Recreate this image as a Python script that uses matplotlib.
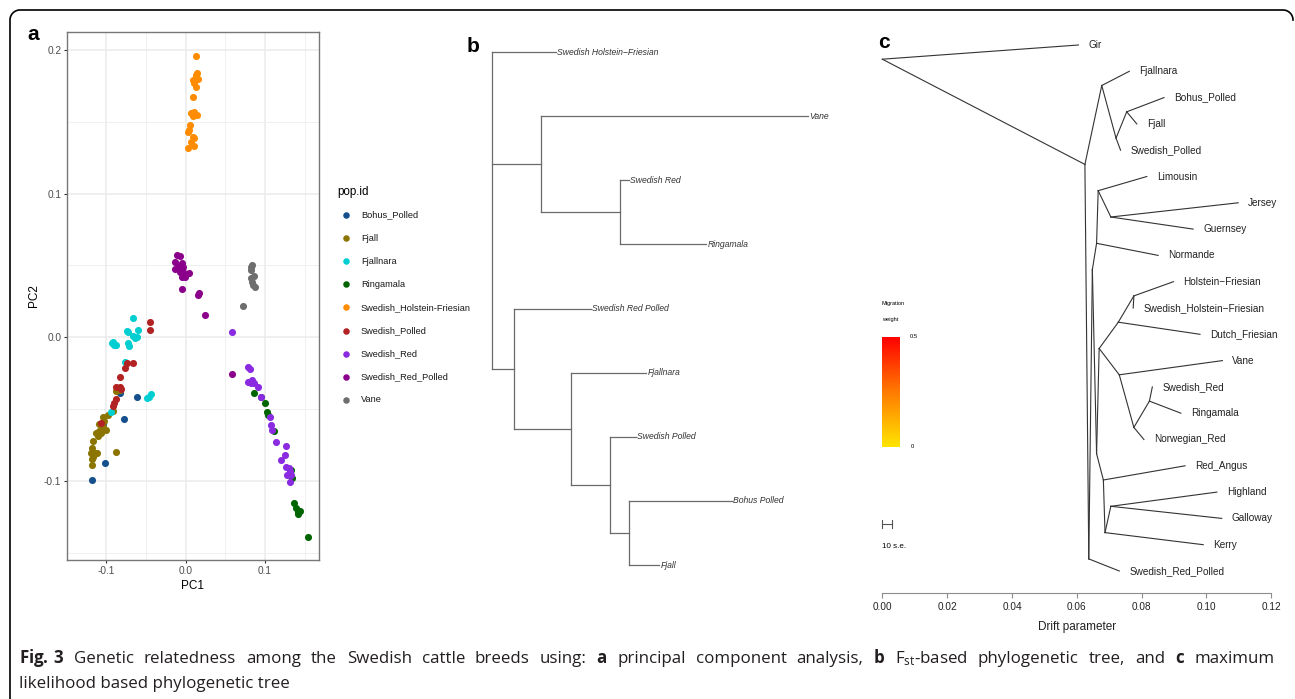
import numpy as np
import matplotlib.pyplot as plt
from matplotlib.colors import LinearSegmentedColormap
from matplotlib.patches import Rectangle

plt.rcParams['font.family'] = ['Liberation Sans', 'DejaVu Sans']
plt.rcParams['mathtext.fontset'] = 'custom'
plt.rcParams['mathtext.rm'] = 'Open Sans'
plt.rcParams['mathtext.bf'] = 'Open Sans:bold'
plt.rcParams['mathtext.it'] = 'Open Sans:italic'

W, H = 1295, 699

# ---------------- panel a : PCA scores ----------------
pops = ['Bohus_Polled', 'Fjall', 'Fjallnara', 'Ringamala', 'Swedish_Holstein-Friesian',
        'Swedish_Polled', 'Swedish_Red', 'Swedish_Red_Polled', 'Vane']
pop_colors = ['#15508C', '#8B7500', '#00CED1', '#006400', '#FF8C00',
              '#B22222', '#8A2BE2', '#8B008B', '#6E6E6E']

bohus_pc1 = [-0.0823, -0.0613, -0.0783, -0.102, -0.1179, -0.1045]
bohus_pc2 = [-0.0385, -0.0413, -0.0569, -0.0877, -0.0993, -0.0600]

fjall_pc1 = [-0.0882, -0.0823, -0.0922, -0.0981, -0.1048, -0.1032, -0.1087, -0.104, -0.1008,
             -0.1099, -0.1127, -0.1111, -0.1071, -0.1167, -0.1179, -0.1159, -0.119, -0.1119,
             -0.1167, -0.1179, -0.1179, -0.0874]
fjall_pc2 = [-0.0371, -0.0367, -0.0511, -0.0541, -0.0552, -0.058, -0.0603, -0.0622, -0.0645,
             -0.065, -0.0664, -0.0687, -0.0668, -0.0719, -0.0773, -0.0803, -0.0807, -0.0807,
             -0.0831, -0.0849, -0.0889, -0.0796]

fjallnara_pc1 = [-0.0664, -0.0744, -0.0724, -0.0664, -0.0613, -0.0597, -0.0636, -0.0922, -0.0902,
                 -0.0874, -0.093, -0.0732, -0.0716, -0.0764, -0.0942, -0.0439, -0.0467, -0.0487]
fjallnara_pc2 = [0.0132, 0.0046, 0.0035, 0.0009, 0.0, 0.0051, -0.0005, -0.003, -0.0054,
                 -0.0054, -0.004, -0.004, -0.0059, -0.017, -0.0518, -0.0395, -0.0418, -0.0425]

ringamala_pc1 = [0.0866, 0.0945, 0.0996, 0.1024, 0.1036, 0.1115, 0.1324, 0.134, 0.1364,
                 0.1392, 0.1412, 0.1443, 0.142, 0.1538]
ringamala_pc2 = [-0.039, -0.0413, -0.0455, -0.0518, -0.054, -0.065, -0.0923, -0.0981, -0.1151,
                 -0.119, -0.1213, -0.1206, -0.1228, -0.1392]

shf_pc1 = [0.0126, 0.0146, 0.0126, 0.0087, 0.0153, 0.0107, 0.0126, 0.0087, 0.0107, 0.0067,
           0.0138, 0.0087, 0.006, 0.0047, 0.0028, 0.0087, 0.0107, 0.010, 0.0028, 0.0067]
shf_pc2 = [0.196, 0.184, 0.1825, 0.179, 0.180, 0.1767, 0.174, 0.167, 0.157, 0.156,
           0.1547, 0.154, 0.1477, 0.1443, 0.143, 0.1396, 0.1385, 0.1333, 0.1315, 0.136]

spolled_pc1 = [-0.0455, -0.0455, -0.0664, -0.0744, -0.0771, -0.0823, -0.0874, -0.0834, -0.081,
               -0.0874, -0.0902, -0.0922, -0.1072]
spolled_pc2 = [0.0104, 0.0051, -0.0177, -0.0177, -0.0216, -0.0278, -0.0348, -0.0348, -0.0362,
               -0.0431, -0.0455, -0.0478, -0.0594]

sred_pc1 = [0.0589, 0.0787, 0.0807, 0.0779, 0.0838, 0.0826, 0.0866, 0.0917, 0.0945, 0.1063,
            0.1075, 0.1087, 0.1135, 0.1261, 0.1253, 0.1206, 0.1261, 0.1313, 0.1273, 0.1324,
            0.1313, 0.130]
sred_pc2 = [0.0035, -0.0204, -0.0223, -0.0309, -0.0298, -0.032, -0.0316, -0.0348, -0.0418,
            -0.0557, -0.061, -0.0645, -0.0727, -0.0754, -0.0819, -0.0854, -0.09, -0.093,
            -0.0958, -0.0958, -0.1005, -0.091]

srp_pc1 = [-0.0111, -0.0071, -0.013, -0.0051, -0.009, -0.0032, -0.013, -0.0071, -0.0032,
           -0.0051, -0.0004, 0.0047, -0.0043, 0.0166, 0.0155, 0.0245, 0.0589]
srp_pc2 = [0.0573, 0.0566, 0.0526, 0.0515, 0.0496, 0.0491, 0.0473, 0.0457, 0.0457,
           0.0422, 0.0417, 0.0445, 0.0336, 0.031, 0.0294, 0.0155, -0.0255]

vane_pc1 = [0.0826, 0.0838, 0.0818, 0.0866, 0.0818, 0.0838, 0.0878, 0.085, 0.0724]
vane_pc2 = [0.0491, 0.0502, 0.0468, 0.0427, 0.0411, 0.0387, 0.0352, 0.0363, 0.022]

pca_x = [bohus_pc1, fjall_pc1, fjallnara_pc1, ringamala_pc1, shf_pc1,
         spolled_pc1, sred_pc1, srp_pc1, vane_pc1]
pca_y = [bohus_pc2, fjall_pc2, fjallnara_pc2, ringamala_pc2, shf_pc2,
         spolled_pc2, sred_pc2, srp_pc2, vane_pc2]

# ---------------- panel b : Fst tree ----------------
b_leaves = ['Swedish Holstein\u2212Friesian', 'Vane', 'Swedish Red', 'Ringamala',
            'Swedish Red Polled', 'Fjallnara', 'Swedish Polled', 'Bohus Polled', 'Fjall']
b_leaf_depth = [0.064, 0.316, 0.137, 0.214, 0.099, 0.154, 0.144, 0.240, 0.167]
b_node_depth = {'root': 0.0, 'A': 0.049, 'B': 0.128, 'C': 0.022, 'D': 0.079, 'E': 0.118, 'F': 0.137}
b_children = {'root': [b_leaves[0], 'A', 'C'],
              'A': ['Vane', 'B'],
              'B': ['Swedish Red', 'Ringamala'],
              'C': ['Swedish Red Polled', 'D'],
              'D': ['Fjallnara', 'E'],
              'E': ['Swedish Polled', 'F'],
              'F': ['Bohus Polled', 'Fjall']}

# ---------------- panel c : TreeMix tree ----------------
c_leaves = ['Gir', 'Fjallnara', 'Bohus_Polled', 'Fjall', 'Swedish_Polled', 'Limousin', 'Jersey',
            'Guernsey', 'Normande', 'Holstein\u2212Friesian', 'Swedish_Holstein\u2212Friesian',
            'Dutch_Friesian', 'Vane', 'Swedish_Red', 'Ringamala', 'Norwegian_Red', 'Red_Angus',
            'Highland', 'Galloway', 'Kerry', 'Swedish_Red_Polled']
c_leaf_drift = [0.0605, 0.0762, 0.0869, 0.0785, 0.0735, 0.0816, 0.1098, 0.0959, 0.0851, 0.0898,
                0.0774, 0.098, 0.1049, 0.0833, 0.0921, 0.0807, 0.0934, 0.1032, 0.1047, 0.099,
                0.0731]
c_node_drift = {'root': 0.0, 'N1': 0.0625, 'N2': 0.0677, 'N3': 0.0721, 'N4': 0.0754,
                'M': 0.0637, 'Q': 0.0648, 'NOR': 0.0661, 'LIM': 0.0666, 'JG': 0.0705,
                'P': 0.0661, 'HV': 0.0669, 'HD': 0.0728, 'HF': 0.0776, 'V': 0.0731,
                'NR': 0.0776, 'SR': 0.0824, 'RA': 0.0682, 'K': 0.0687, 'HG': 0.0705}
c_children = {'root': ['Gir', 'N1'], 'N1': ['N2', 'M'], 'N2': ['Fjallnara', 'N3'],
              'N3': ['N4', 'Swedish_Polled'], 'N4': ['Bohus_Polled', 'Fjall'],
              'M': ['Q', 'Swedish_Red_Polled'], 'Q': ['NOR', 'P'], 'NOR': ['LIM', 'Normande'],
              'LIM': ['Limousin', 'JG'], 'JG': ['Jersey', 'Guernsey'], 'P': ['HV', 'RA'],
              'HV': ['HD', 'V'], 'HD': ['HF', 'Dutch_Friesian'],
              'HF': ['Holstein\u2212Friesian', 'Swedish_Holstein\u2212Friesian'],
              'V': ['Vane', 'NR'], 'NR': ['SR', 'Norwegian_Red'],
              'SR': ['Swedish_Red', 'Ringamala'], 'RA': ['Red_Angus', 'K'],
              'K': ['HG', 'Kerry'], 'HG': ['Highland', 'Galloway']}
drift_ticks = [0.00, 0.02, 0.04, 0.06, 0.08, 0.10, 0.12]
mig_ticks = ['0', '0.5']

caption1 = [r'$\mathbf{Fig.\,3}$', 'Genetic', 'relatedness', 'among', 'the', 'Swedish', 'cattle',
            'breeds', 'using:', r'$\mathbf{a}$', 'principal', 'component', 'analysis,',
            r'$\mathbf{b}$', r'F$_{\mathrm{st}}$-based', 'phylogenetic', 'tree,', 'and',
            r'$\mathbf{c}$', 'maximum']
caption2 = 'likelihood based phylogenetic tree'

fig = plt.figure(figsize=(W / 100, H / 100), dpi=100)

# overlay in pixel units for frame, panel letters and caption
ov = fig.add_axes([0, 0, 1, 1])
ov.set_xlim(0, W)
ov.set_ylim(H, 0)
ov.axis('off')

t = np.linspace(0, np.pi / 2, 20)
fx = np.concatenate([[10], 20 - 10 * np.cos(t), [1283], 1283 + 10 * np.sin(t)])
fy = np.concatenate([[H], 20 - 10 * np.sin(t), [10], 20 - 10 * np.cos(t)])
ov.plot(fx, fy, color='black', lw=1.2)

for lab, x, y in [('a', 33, 34), ('b', 473, 47), ('c', 884, 43)]:
    ov.text(x, y, lab, fontsize=15, fontweight='bold', ha='center', va='center')

# caption: first line justified between x=19 and x=1275
cap_kw = dict(family='Open Sans', fontsize=12.2, va='baseline', ha='left', color='#231F20')
words = [ov.text(0, 663, w, **cap_kw) for w in caption1]
ov.text(19, 688, caption2, **cap_kw)
fig.canvas.draw()
rend = fig.canvas.get_renderer()
widths = [w.get_window_extent(rend).width for w in words]
gap = (1275 - 19 - sum(widths)) / (len(words) - 1)
xpos = 19
for w, wd in zip(words, widths):
    w.set_x(xpos)
    xpos += wd + gap

# ---- panel a ----
ax = fig.add_axes([66.7 / W, 1 - 560 / H, 252.3 / W, 528 / H])
for xs, ys, col in zip(pca_x, pca_y, pop_colors):
    ax.scatter(xs, ys, s=26, color=col, linewidths=0, zorder=3)
ax.set_xlim(-0.1312, 0.168)
ax.set_ylim(-0.155, 0.2125)
ax.set_xticks([-0.1, 0.0, 0.1])
ax.set_xticklabels(['-0.1', '0.0', '0.1'])
ax.set_yticks([-0.1, 0.0, 0.1, 0.2])
ax.set_yticklabels(['-0.1', '0.0', '0.1', '0.2'])
ax.set_xticks([-0.15, -0.05, 0.05, 0.15], minor=True)
ax.set_yticks([-0.15, -0.05, 0.05, 0.15], minor=True)
ax.grid(which='major', color='#EBEBEB', lw=1.1)
ax.grid(which='minor', color='#F0F0F0', lw=0.7)
ax.set_axisbelow(True)
ax.tick_params(which='major', length=2.5, width=0.8, color='#333333', labelsize=7.3,
               labelcolor='#4D4D4D', pad=1.5)
ax.tick_params(which='minor', length=0)
for s in ax.spines.values():
    s.set_color('#777777')
    s.set_linewidth(1.0)
ax.set_xlabel('PC1', fontsize=8.5, labelpad=3)
ax.set_ylabel('PC2', fontsize=8.5, labelpad=3)

# legend (drawn by hand to keep ggplot spacing)
ov.text(337, 192, 'pop.id', fontsize=8.4, va='center', ha='left')
for i, (name, col) in enumerate(zip(pops, pop_colors)):
    yy = 215 + i * 23.1
    ov.scatter([346], [yy], s=22, color=col, linewidths=0)
    tx = ov.text(361, yy, name, fontsize=6.7, va='center', ha='left', color='#1A1A1A')
    tx.set_clip_path(Rectangle((0, 0), 471, H, transform=ov.transData))

# ---- panel b ----
axb = fig.add_axes([492.3 / W, 1 - 565 / H, 400 / W, 513 / H])
axb.set_xlim(0, 0.4)
axb.set_ylim(8, 0)
axb.axis('off')

b_y = {name: i for i, name in enumerate(b_leaves)}
b_depth = dict(zip(b_leaves, b_leaf_depth))
b_depth.update(b_node_depth)


def place_b(node):
    if node in b_y:
        return b_y[node]
    ys = [place_b(ch) for ch in b_children[node]]
    b_y[node] = (ys[0] + ys[-1]) / 2
    return b_y[node]


place_b('root')
bcol = '#6A6A6A'
for node, kids in b_children.items():
    ky = [b_y[k] for k in kids]
    axb.plot([b_depth[node]] * 2, [min(ky), max(ky)], color=bcol, lw=0.9, clip_on=False)
    for k in kids:
        axb.plot([b_depth[node], b_depth[k]], [b_y[k]] * 2, color=bcol, lw=0.9, clip_on=False)
for name, d in zip(b_leaves, b_leaf_depth):
    axb.text(d + 0.001, b_y[name], name, fontsize=6.2, style='italic', va='center',
             ha='left', color='#333333')

# ---- panel c ----
axc = fig.add_axes([882.3 / W, 1 - 571 / H, 389 / W, 526 / H])
axc.set_xlim(0, 0.12)
axc.set_ylim(20, 0)
axc.patch.set_visible(False)
for s in ['top', 'right', 'left']:
    axc.spines[s].set_visible(False)
axc.spines['bottom'].set_position(('outward', 16))
axc.spines['bottom'].set_color('#8C8C8C')
axc.spines['bottom'].set_bounds(0, 0.12)
axc.set_yticks([])
axc.set_xticks(drift_ticks)
axc.set_xticklabels([f'{v:.2f}' for v in drift_ticks])
axc.tick_params(axis='x', length=3.6, width=0.8, color='#8C8C8C', labelsize=7.2,
                labelcolor='#222222', pad=3)
axc.set_xlabel('Drift parameter', fontsize=8.5, labelpad=6, color='#222222')

c_y = {name: i for i, name in enumerate(c_leaves)}
c_x = dict(zip(c_leaves, c_leaf_drift))
c_x.update(c_node_drift)


def leaves_under(node):
    if node in c_children:
        out = []
        for ch in c_children[node]:
            out += leaves_under(ch)
        return out
    return [node]


for node, kids in c_children.items():
    c_y[node] = max(c_y[l] for l in leaves_under(kids[0])) + 0.54

for node, kids in c_children.items():
    for k in kids:
        axc.plot([c_x[node], c_x[k]], [c_y[node], c_y[k]], color='#333333', lw=0.8,
                 clip_on=False)
for name in c_leaves:
    axc.text(c_x[name] + 0.0031, c_y[name], name, fontsize=7.2, va='center', ha='left',
             color='#222222')

# migration weight colour scale and s.e. bar
cax = fig.add_axes([882.3 / W, 1 - 446.7 / H, 17.7 / W, 110 / H])
heat = LinearSegmentedColormap.from_list('heat', ['#FFE400', '#FF7A00', '#FF0000'])
cax.imshow(np.linspace(1, 0, 100)[:, None], aspect='auto', cmap=heat, extent=[0, 1, 0, 0.5])
cax.axis('off')
cax.text(1.55, 0.5, mig_ticks[1], fontsize=4.2, va='center', ha='left', transform=cax.transData)
cax.text(1.6, 0.0, mig_ticks[0], fontsize=4.2, va='center', ha='left', transform=cax.transData)
cax.set_xlim(0, 1)
cax.set_ylim(0, 0.5)
ov.text(882, 303, 'Migration', fontsize=4.1, va='center', ha='left')
ov.text(882, 320, 'weight', fontsize=4.1, va='center', ha='left')

se = 0.0031
axc.plot([0, se], [18.2, 18.2], color='#555555', lw=0.8, clip_on=False)
axc.plot([0, 0], [18.05, 18.35], color='#555555', lw=0.8, clip_on=False)
axc.plot([se, se], [18.05, 18.35], color='#555555', lw=0.8, clip_on=False)
axc.text(0, 19.05, '10 s.e.', fontsize=5.8, va='center', ha='left')

fig.savefig('out.png', dpi=100)
